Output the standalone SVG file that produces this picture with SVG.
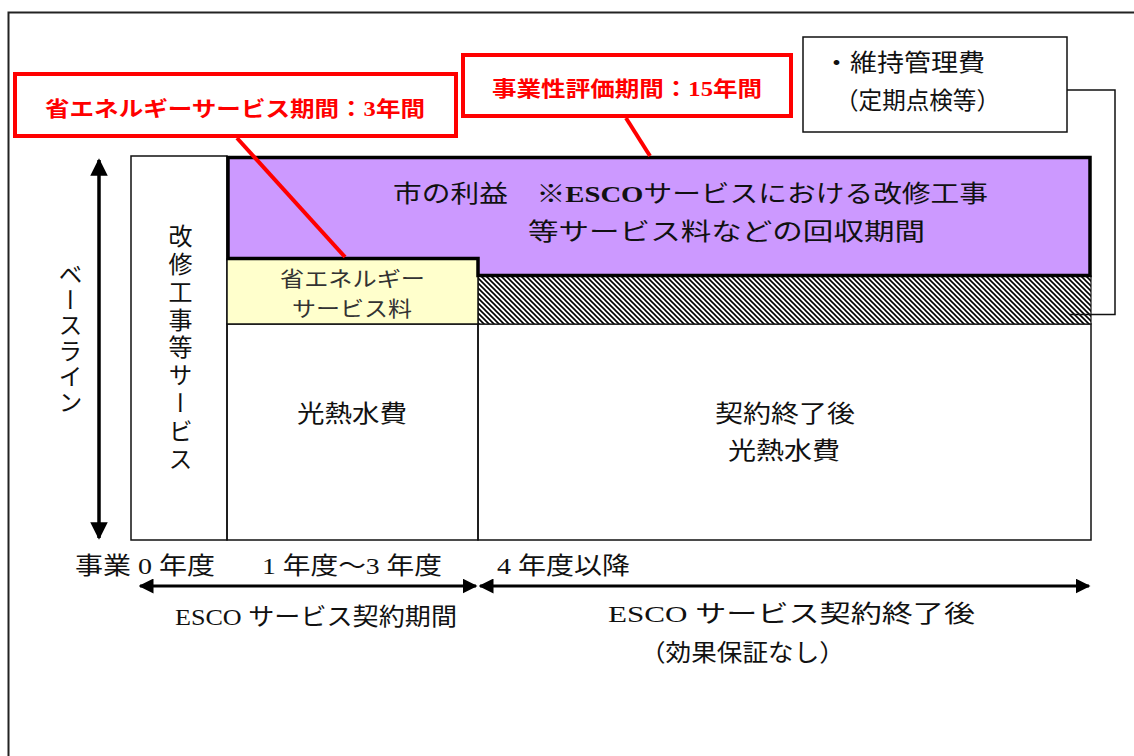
<svg xmlns="http://www.w3.org/2000/svg" width="1134" height="756" viewBox="0 0 1134 756">
<defs>
<pattern id="hatch" patternUnits="userSpaceOnUse" width="5" height="5">
<rect width="5" height="5" fill="#fff"/>
<path d="M-1,-1 L6,6 M-1,4 L1,6 M4,-1 L6,1" stroke="#000" stroke-width="1.6"/>
</pattern>
<marker id="ah" viewBox="0 0 10 10" refX="9" refY="5" markerWidth="5" markerHeight="5" orient="auto-start-reverse" markerUnits="strokeWidth">
<path d="M0,0 L10,5 L0,10 Z" fill="#000"/>
</marker>
<style>
text{font-family:"Liberation Serif","Noto Sans CJK JP",serif;fill:#111;}
.t24{font-size:24px;}
.t20{font-size:21px;fill:#333;}
.red{font-size:21px;font-weight:bold;fill:#f00;}
.thin{fill:none;stroke:#111;stroke-width:1.5;}
.redbox{fill:#fff;stroke:#f00;stroke-width:4;}
.redline{stroke:#f00;stroke-width:4;fill:none;}
.vt{writing-mode:vertical-rl;font-size:24px;}
</style>
</defs>
<rect x="0" y="0" width="1134" height="756" fill="#fff"/>
<path d="M8.5,756 L8.5,12.5 L1134,12.5" fill="none" stroke="#222" stroke-width="2"/>

<g id="node-kaishu">
<rect x="131" y="156" width="96" height="384" class="thin" fill="#fff"/>
<text class="vt" x="178" y="224" letter-spacing="3.8">改修工事等サービス</text>
</g>
<g id="node-kounetsu1">
<rect x="227" y="324" width="251" height="216" class="thin"/>
<text class="t24" x="297" y="422" textLength="110" lengthAdjust="spacingAndGlyphs">光熱水費</text>
</g>
<g id="node-kounetsu2">
<rect x="478" y="324" width="613" height="216" class="thin"/>
<text class="t24" x="715" y="422" textLength="140" lengthAdjust="spacingAndGlyphs">契約終了後</text>
<text class="t24" x="728" y="459" textLength="112" lengthAdjust="spacingAndGlyphs">光熱水費</text>
</g>
<g id="node-hatch">
<rect x="478" y="276" width="613" height="48" fill="url(#hatch)" stroke="#111" stroke-width="1.2"/>
</g>
<g id="node-shoene">
<rect x="227" y="259" width="251" height="65" fill="#ffffcc" stroke="#111" stroke-width="1.5"/>
<text class="t20" x="280" y="286" textLength="145" lengthAdjust="spacingAndGlyphs">省エネルギー</text>
<text class="t20" x="292" y="316" textLength="120" lengthAdjust="spacingAndGlyphs">サービス料</text>
</g>
<g id="node-rieki">
<path d="M228,157.5 L1090,157.5 L1090,275.5 L478,275.5 L478,258.5 L228,258.5 Z" fill="#cc99ff" stroke="#000" stroke-width="3.5"/>
<text class="t24" x="393" y="202" textLength="595" lengthAdjust="spacingAndGlyphs">市の利益　※<tspan font-weight="bold">ESCO</tspan>サービスにおける改修工事</text>
<text class="t24" x="528" y="240" textLength="397" lengthAdjust="spacingAndGlyphs">等サービス料などの回収期間</text>
</g>
<g id="node-ijikanri">
<rect x="803" y="37" width="264" height="95" class="thin" fill="#fff"/>
<text class="t24" x="823" y="71" textLength="162" lengthAdjust="spacingAndGlyphs">・維持管理費</text>
<text class="t24" x="835" y="109" textLength="165" lengthAdjust="spacingAndGlyphs">（定期点検等）</text>
</g>
<g id="node-red1">
<rect x="15" y="74" width="441" height="62" class="redbox"/>
<text class="red" x="45" y="116" textLength="380" lengthAdjust="spacingAndGlyphs">省エネルギーサービス期間：3年間</text>
</g>
<g id="node-red2">
<rect x="463" y="55" width="328" height="61" class="redbox"/>
<text class="red" x="492" y="96" textLength="270" lengthAdjust="spacingAndGlyphs">事業性評価期間：15年間</text>
</g>

<g id="connectors">
<line x1="237" y1="138" x2="345" y2="257" class="redline"/>
<line x1="626" y1="118" x2="650" y2="156" class="redline"/>
<path d="M1067,90 L1115,90 L1115,314.5 L1070,314.5" fill="none" stroke="#111" stroke-width="1.5"/>
<line x1="99" y1="160" x2="99" y2="538" stroke="#000" stroke-width="3.5" marker-start="url(#ah)" marker-end="url(#ah)"/>
<line x1="140" y1="586" x2="476" y2="586" stroke="#000" stroke-width="3" marker-start="url(#ah)" marker-end="url(#ah)"/>
<line x1="480" y1="586" x2="1089" y2="586" stroke="#000" stroke-width="3" marker-start="url(#ah)" marker-end="url(#ah)"/>
</g>

<g id="labels">
<text class="vt" x="68" y="262" letter-spacing="1.5">ベースライン</text>
<text class="t24" x="75" y="574" textLength="140" lengthAdjust="spacingAndGlyphs">事業 0 年度</text>
<text class="t24" x="262" y="574" textLength="180" lengthAdjust="spacingAndGlyphs">1 年度～3 年度</text>
<text class="t24" x="497" y="574" textLength="133" lengthAdjust="spacingAndGlyphs">4 年度以降</text>
<text class="t24" x="175" y="625" textLength="282" lengthAdjust="spacingAndGlyphs">ESCO サービス契約期間</text>
<text class="t24" x="608" y="622" textLength="367" lengthAdjust="spacingAndGlyphs">ESCO サービス契約終了後</text>
<text class="t24" x="640" y="661" textLength="205" lengthAdjust="spacingAndGlyphs">（効果保証なし）</text>
</g>
</svg>
